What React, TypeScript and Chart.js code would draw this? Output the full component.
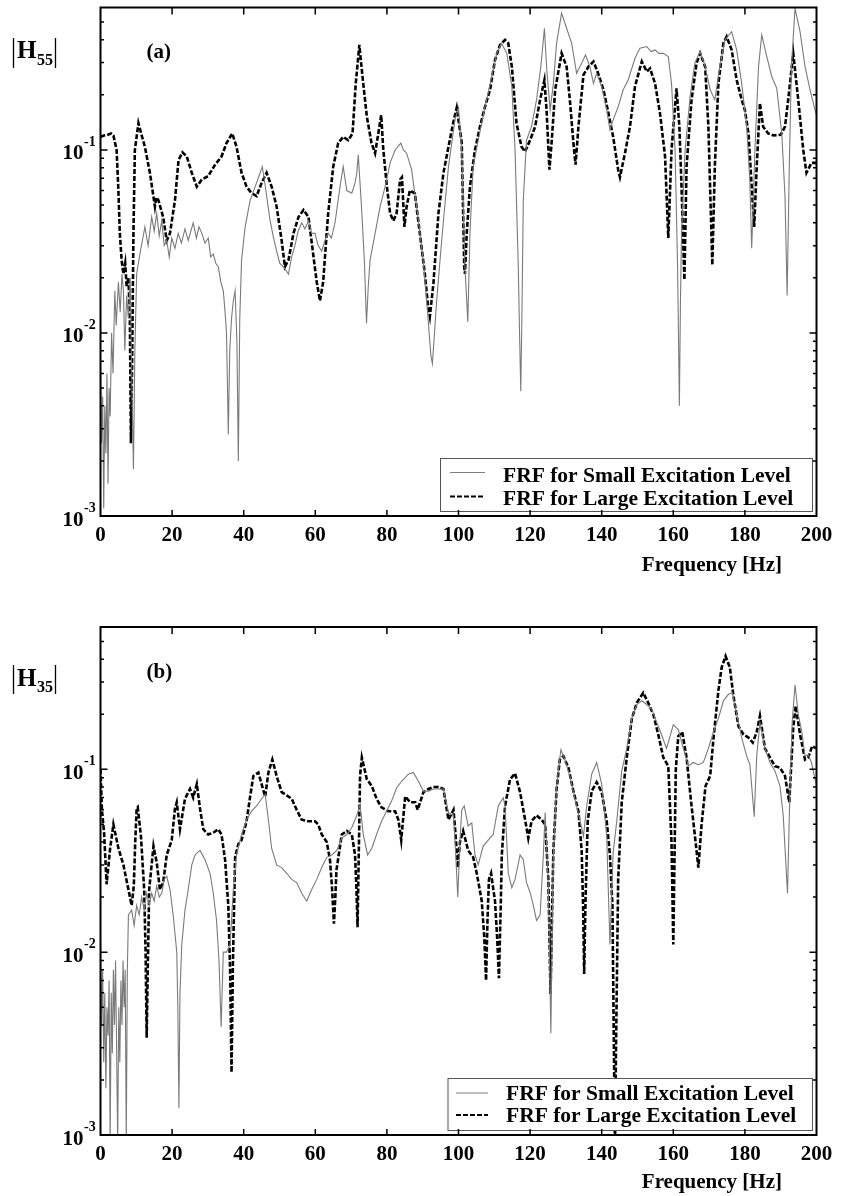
import React, { useEffect, useRef } from 'react';
import { Chart, registerables } from 'chart.js';

Chart.register(...registerables);

const SERIF = '"Liberation Serif", "Times New Roman", serif';

type Pt = [number, number];

const xTickValues = [0, 20, 40, 60, 80, 100, 120, 140, 160, 180, 200];
const yDecades = [0.001, 0.01, 0.1];
const yDecadeExponents = ['-3', '-2', '-1'];
const minorSteps = [2, 3, 4, 5, 6, 7, 8, 9];
const seriesLabels = ['FRF for Small Excitation Level', 'FRF for Large Excitation Level'];
const xAxisTitle = 'Frequency [Hz]';

// Panel (a): |H55|
const h55Small: Pt[] = [
  [0, 0.0065], [0.3, 0.0025], [0.6, 0.0045], [0.9, 0.0011], [1.2, 0.004], [1.5, 0.0022], [1.8, 0.006], [2.1, 0.0015],
  [2.4, 0.005], [2.7, 0.0035], [3.1, 0.01], [3.5, 0.006], [4, 0.017], [4.4, 0.011], [5, 0.019], [5.5, 0.013], [6, 0.021],
  [6.4, 0.017], [6.8, 0.008], [7.3, 0.016], [7.8, 0.012], [8.3, 0.02], [8.8, 0.005], [9.2, 0.0018], [9.6, 0.008],
  [10.1, 0.021], [11, 0.027], [12.4, 0.038], [13.3, 0.03], [14.3, 0.043], [15, 0.036], [15.7, 0.045], [16.4, 0.034],
  [17.1, 0.041], [17.8, 0.03], [18.5, 0.032], [19.2, 0.026], [19.9, 0.033], [20.8, 0.029], [21.7, 0.035], [22.6, 0.031],
  [23.6, 0.037], [24.5, 0.032], [25.9, 0.04], [26.8, 0.033], [27.5, 0.038], [28.3, 0.035], [29.2, 0.031], [30.1, 0.033],
  [30.8, 0.026], [31.5, 0.027], [32.2, 0.024], [32.9, 0.023], [33.6, 0.019], [34.3, 0.017], [34.8, 0.013], [35.2, 0.01],
  [35.7, 0.0028], [36.1, 0.008], [36.6, 0.012], [37.1, 0.015], [37.6, 0.017], [38.1, 0.009], [38.5, 0.002], [38.9, 0.012],
  [39.4, 0.025], [40.4, 0.038], [41.8, 0.053], [43.2, 0.063], [44.6, 0.075], [45.2, 0.081], [45.9, 0.066], [47.3, 0.042],
  [48.2, 0.034], [49.2, 0.028], [50.1, 0.024], [51.1, 0.023], [52.5, 0.021], [53.4, 0.026], [54.3, 0.03], [55.2, 0.036],
  [56.2, 0.04], [57.1, 0.037], [58.1, 0.041], [59, 0.035], [59.9, 0.035], [60.8, 0.03], [61.8, 0.028], [62.7, 0.032],
  [63.6, 0.035], [64.5, 0.033], [65.5, 0.04], [66.2, 0.05], [66.9, 0.063], [67.8, 0.081], [68.8, 0.06], [70.2, 0.058],
  [71.1, 0.066], [71.6, 0.075], [72, 0.094], [72.9, 0.049], [73.7, 0.025], [74.3, 0.0113], [74.8, 0.018], [75.3, 0.025],
  [76.7, 0.035], [78.1, 0.049], [79.5, 0.063], [80.9, 0.085], [82.3, 0.1], [83.9, 0.109], [84.6, 0.1], [85.5, 0.096],
  [86.9, 0.078], [88.3, 0.049], [89.7, 0.0296], [90.4, 0.022], [91.1, 0.015], [91.8, 0.01], [92.3, 0.0075], [92.7, 0.0068],
  [93.3, 0.01], [93.9, 0.015], [95.3, 0.032], [96.2, 0.05], [97.2, 0.081], [99, 0.146], [100, 0.17], [100.9, 0.1],
  [101.8, 0.023], [102.6, 0.0115], [103.2, 0.035], [104.1, 0.081], [105.5, 0.113], [107.4, 0.172], [109.3, 0.252],
  [110.7, 0.337], [112, 0.383], [113.5, 0.337], [114.9, 0.222], [115.8, 0.1], [116.7, 0.023], [117.1, 0.009],
  [117.4, 0.0048], [117.7, 0.012], [118.1, 0.053], [119, 0.113], [120.4, 0.134], [121.8, 0.188], [123, 0.285],
  [124, 0.462], [124.6, 0.285], [125.6, 0.165], [126.5, 0.231], [127.4, 0.383], [128.8, 0.559], [130.2, 0.462],
  [131.6, 0.383], [133, 0.262], [134.4, 0.298], [135.5, 0.33], [136.7, 0.285], [137.7, 0.231], [138.6, 0.262],
  [140, 0.222], [141.4, 0.165], [142.3, 0.129], [143.2, 0.146], [144.6, 0.172], [146, 0.213], [147.4, 0.241],
  [149.3, 0.317], [150.7, 0.36], [152.6, 0.367], [153.8, 0.345], [154.9, 0.352], [156, 0.337], [157.2, 0.337],
  [158.6, 0.324], [159.5, 0.231], [160.5, 0.1], [161.2, 0.023], [161.7, 0.004], [162, 0.015], [162.3, 0.035],
  [163.3, 0.1], [164.7, 0.196], [166, 0.298], [167.5, 0.345], [168.9, 0.285], [170.3, 0.213], [171.6, 0.188],
  [173, 0.285], [174.4, 0.399], [176.3, 0.443], [177.7, 0.352], [179.1, 0.231], [180.5, 0.134], [181.4, 0.066],
  [181.9, 0.029], [182.8, 0.1], [183.8, 0.285], [184.7, 0.425], [186.1, 0.324], [187.5, 0.252], [188.9, 0.217],
  [190.3, 0.123], [191.2, 0.056], [191.8, 0.016], [192.4, 0.081], [193, 0.285], [194, 0.594], [195.4, 0.443],
  [196.8, 0.285], [198.2, 0.213], [199.6, 0.165], [200, 0.155],
];

const h55Large: Pt[] = [
  [0, 0.118], [1, 0.12], [2, 0.121], [3, 0.123], [3.6, 0.12], [4.5, 0.1], [5, 0.06], [5.4, 0.035], [5.9, 0.025],
  [6.4, 0.021], [6.9, 0.024], [7.3, 0.018], [7.8, 0.02], [8.2, 0.012], [8.5, 0.0025], [8.8, 0.006], [9.2, 0.035],
  [9.6, 0.1], [10.6, 0.14], [11.5, 0.12], [12.4, 0.104], [13.8, 0.075], [15.2, 0.049], [15.6, 0.055], [16.2, 0.053],
  [17.5, 0.043], [18.5, 0.032], [19.4, 0.035], [20.8, 0.053], [21.8, 0.088], [22.9, 0.097], [24.1, 0.092], [25.5, 0.075],
  [26.9, 0.063], [28.3, 0.069], [30.1, 0.072], [32, 0.083], [33.8, 0.092], [35.2, 0.109], [36.8, 0.123], [38, 0.104],
  [39.4, 0.075], [40.8, 0.063], [42.2, 0.058], [43.6, 0.056], [45, 0.066], [46.4, 0.075], [47.8, 0.063], [49.2, 0.049],
  [50.6, 0.032], [51.5, 0.023], [52.5, 0.025], [53.9, 0.035], [55.3, 0.043], [56.7, 0.047], [58.1, 0.043], [59.4, 0.027],
  [60.4, 0.019], [61.3, 0.015], [62.2, 0.019], [62.7, 0.026], [63.6, 0.045], [65, 0.081], [66.4, 0.109], [67.8, 0.118],
  [69.2, 0.113], [70.4, 0.123], [71.3, 0.23], [72.3, 0.375], [73.2, 0.25], [74.4, 0.152], [75.7, 0.109], [76.7, 0.096],
  [77.6, 0.123], [78.4, 0.155], [79, 0.1], [80, 0.063], [80.9, 0.045], [81.8, 0.041], [82.7, 0.045], [83.7, 0.069],
  [84.2, 0.071], [84.9, 0.038], [85.5, 0.049], [86.4, 0.06], [87.8, 0.058], [89.2, 0.035], [90.6, 0.021], [91.5, 0.014],
  [92, 0.0123], [93, 0.0187], [94.4, 0.045], [95.8, 0.075], [97.2, 0.104], [98.5, 0.14], [99.5, 0.17], [100.9, 0.11],
  [101.6, 0.023], [101.8, 0.021], [102.3, 0.035], [103.2, 0.063], [104.6, 0.1], [106, 0.134], [107.4, 0.172],
  [108.8, 0.213], [110.2, 0.31], [111.6, 0.375], [113, 0.399], [113.9, 0.383], [114.9, 0.285], [116.2, 0.14],
  [117.6, 0.104], [118.6, 0.098], [120, 0.113], [121.4, 0.134], [122.8, 0.188], [124, 0.241], [124.6, 0.165],
  [125.4, 0.078], [126, 0.109], [127, 0.213], [128.8, 0.337], [130.2, 0.285], [131.1, 0.188], [132.1, 0.109],
  [132.7, 0.083], [133.5, 0.134], [134.9, 0.257], [136.3, 0.285], [137.7, 0.304], [139, 0.262], [140.5, 0.213],
  [141.9, 0.158], [143.2, 0.118], [144.6, 0.078], [145.1, 0.071], [146.5, 0.096], [147.9, 0.134], [149.3, 0.222],
  [151.2, 0.304], [152.6, 0.268], [153.5, 0.279], [154.9, 0.231], [156.3, 0.158], [157.7, 0.092], [158.6, 0.033],
  [159.5, 0.1], [160.9, 0.217], [161.7, 0.134], [162.3, 0.063], [163.1, 0.0195], [163.7, 0.081], [165.1, 0.188],
  [166.5, 0.298], [167.5, 0.337], [168.9, 0.285], [169.8, 0.134], [170.9, 0.0235], [171.6, 0.081], [172.6, 0.231],
  [174, 0.383], [174.9, 0.416], [176.3, 0.352], [177.7, 0.241], [179.1, 0.188], [180, 0.165], [181, 0.123],
  [181.9, 0.063], [182.6, 0.038], [183.3, 0.081], [184.2, 0.18], [185.1, 0.134], [186.5, 0.123], [188, 0.12],
  [190, 0.121], [191.2, 0.134], [192.1, 0.188], [193.5, 0.337], [194.9, 0.188], [196.3, 0.1], [197.2, 0.075],
  [198.6, 0.085], [200, 0.085],
];

// Panel (b): |H35|
const h35Small: Pt[] = [
  [0, 0.012], [0.3, 0.004], [0.6, 0.008], [0.9, 0.0025], [1.2, 0.006], [1.5, 0.0018], [1.8, 0.005], [2.1, 0.0035],
  [2.4, 0.007], [2.7, 0.0009], [3, 0.006], [3.3, 0.0028], [3.6, 0.008], [3.9, 0.004], [4.2, 0.009], [4.5, 0.003],
  [4.8, 0.0009], [5.1, 0.005], [5.4, 0.0025], [5.7, 0.007], [6, 0.004], [6.3, 0.009], [6.6, 0.005], [6.9, 0.008],
  [7.2, 0.0009], [7.5, 0.008], [7.8, 0.016], [8.7, 0.017], [9.4, 0.014], [10.1, 0.018], [10.8, 0.016], [11.5, 0.02],
  [12.2, 0.017], [12.9, 0.021], [13.6, 0.018], [14.3, 0.021], [15, 0.019], [15.7, 0.023], [16.4, 0.02], [17.1, 0.021],
  [17.8, 0.025], [18.5, 0.026], [19.4, 0.022], [20.3, 0.016], [21.3, 0.01], [21.6, 0.005], [21.9, 0.0014], [22.2, 0.006],
  [22.7, 0.011], [23.6, 0.017], [24.5, 0.022], [25.5, 0.03], [26.4, 0.034], [27.8, 0.036], [29.2, 0.032], [30.6, 0.027],
  [31.5, 0.021], [32.4, 0.015], [33.1, 0.009], [33.7, 0.0039], [34.3, 0.01], [35.2, 0.01], [36.2, 0.011], [37.1, 0.022],
  [38, 0.034], [39.4, 0.044], [40.8, 0.053], [42.2, 0.059], [43.6, 0.063], [45, 0.069], [46, 0.073], [46.9, 0.053],
  [47.8, 0.037], [49.2, 0.03], [50.6, 0.029], [52, 0.027], [53.4, 0.025], [54.8, 0.024], [56.2, 0.021], [57.6, 0.019],
  [59, 0.022], [60.4, 0.025], [61.8, 0.029], [63.2, 0.033], [64.6, 0.034], [66, 0.036], [67.4, 0.042], [68.8, 0.044],
  [70.2, 0.048], [71.6, 0.056], [72.5, 0.064], [73.4, 0.044], [74.6, 0.034], [75.8, 0.037], [77.1, 0.044], [78.5, 0.052],
  [79.9, 0.059], [81.3, 0.067], [82.7, 0.079], [84.1, 0.086], [86, 0.094], [87.4, 0.096], [88.8, 0.086], [90.2, 0.076],
  [91.6, 0.076], [93, 0.078], [94.4, 0.078], [95.8, 0.078], [97.2, 0.058], [98.6, 0.056], [99.2, 0.035], [99.8, 0.02],
  [100.4, 0.04], [100.9, 0.06], [101.6, 0.063], [102.7, 0.049], [103.7, 0.051], [104.6, 0.034], [105.5, 0.03],
  [106.9, 0.038], [108.3, 0.041], [109.7, 0.044], [111.1, 0.063], [112.5, 0.07], [113, 0.063], [113.9, 0.027],
  [114.9, 0.0225], [115.8, 0.025], [117.2, 0.034], [118.1, 0.032], [119, 0.024], [120, 0.0212], [120.9, 0.018],
  [121.8, 0.0149], [122.8, 0.016], [123.7, 0.034], [124.2, 0.058], [125.1, 0.023], [125.8, 0.0036], [126.2, 0.015],
  [126.5, 0.034], [127.4, 0.081], [128.6, 0.128], [129.7, 0.113], [131.1, 0.092], [132.5, 0.069], [133.9, 0.053],
  [134.9, 0.043], [135.8, 0.063], [137.2, 0.094], [138.6, 0.109], [140, 0.083], [141.4, 0.043], [142.3, 0.011],
  [143.2, 0.035], [144.2, 0.052], [145.6, 0.098], [147, 0.13], [148.4, 0.19], [149.8, 0.226], [151.2, 0.237],
  [152.6, 0.226], [154, 0.213], [155.4, 0.18], [156.7, 0.155], [158.1, 0.13], [159.1, 0.152], [160, 0.175],
  [161.4, 0.165], [162.8, 0.13], [164.2, 0.104], [165.6, 0.109], [167, 0.106], [168.4, 0.109], [169.8, 0.13],
  [171.2, 0.16], [172.6, 0.19], [174, 0.237], [175.4, 0.257], [176.5, 0.262], [177.7, 0.2], [179.1, 0.149],
  [180.5, 0.118], [181.4, 0.106], [182.6, 0.055], [183.3, 0.118], [184.2, 0.18], [185.6, 0.13], [187, 0.109],
  [188.4, 0.098], [189.8, 0.081], [190.7, 0.056], [191.9, 0.021], [192.6, 0.08], [193.2, 0.18], [194, 0.29],
  [194.9, 0.2], [195.9, 0.16], [196.8, 0.118], [197.7, 0.12], [198.6, 0.109], [200, 0.081],
];

const h35Large: Pt[] = [
  [0, 0.1], [0.4, 0.06], [1, 0.045], [1.7, 0.0235], [2.7, 0.037], [3.6, 0.05], [5, 0.037], [6.4, 0.03], [7.8, 0.022],
  [8.7, 0.018], [9.3, 0.023], [9.7, 0.04], [10.1, 0.061], [10.4, 0.062], [11.3, 0.043], [12.2, 0.022], [12.6, 0.01],
  [12.9, 0.0034], [13.2, 0.008], [13.6, 0.022], [14.8, 0.038], [15.7, 0.031], [16.6, 0.022], [17.5, 0.024], [18.5, 0.034],
  [19.9, 0.041], [20.8, 0.061], [21.3, 0.066], [22.2, 0.047], [23.6, 0.069], [25, 0.078], [25.9, 0.07], [26.9, 0.083],
  [27.8, 0.061], [28.7, 0.047], [30.1, 0.044], [31.5, 0.045], [32.9, 0.047], [33.8, 0.044], [34.8, 0.032], [35.7, 0.018],
  [36.2, 0.008], [36.6, 0.0022], [37, 0.009], [37.6, 0.033], [38.5, 0.039], [39.4, 0.041], [40.8, 0.052], [41.8, 0.071],
  [42.7, 0.092], [44.1, 0.096], [45, 0.083], [46, 0.071], [46.9, 0.096], [48, 0.113], [49.2, 0.092], [50.6, 0.075],
  [52, 0.072], [53.4, 0.069], [54.8, 0.06], [56.2, 0.053], [58.1, 0.052], [59.9, 0.052], [60.8, 0.05], [61.8, 0.044],
  [63.2, 0.04], [64.1, 0.032], [64.7, 0.022], [65.2, 0.0143], [65.6, 0.02], [65.9, 0.028], [67.4, 0.044], [68.8, 0.046],
  [70.2, 0.044], [71.1, 0.034], [71.5, 0.022], [71.8, 0.0137], [72.2, 0.04], [72.5, 0.092], [73, 0.116], [74.4, 0.088],
  [75.8, 0.081], [77.1, 0.069], [78.5, 0.062], [80.4, 0.059], [82.3, 0.059], [83.2, 0.053], [84, 0.041], [85.1, 0.071],
  [86.5, 0.066], [87.9, 0.066], [88.6, 0.06], [90.2, 0.075], [91.6, 0.078], [93, 0.08], [94.4, 0.08], [95.8, 0.078],
  [97.2, 0.053], [98.6, 0.06], [99, 0.049], [99.8, 0.029], [100.4, 0.04], [101.3, 0.046], [102.7, 0.036], [104.1, 0.033],
  [105.1, 0.027], [106.5, 0.019], [107.2, 0.012], [107.7, 0.007], [108.1, 0.015], [108.5, 0.025], [109.1, 0.027],
  [110.2, 0.019], [110.8, 0.012], [111.3, 0.0072], [111.8, 0.018], [112.1, 0.034], [113, 0.063], [114.4, 0.088],
  [115.8, 0.095], [117.2, 0.075], [118.6, 0.053], [119.5, 0.042], [120.4, 0.052], [121.8, 0.056], [123.2, 0.053],
  [124.2, 0.05], [125.1, 0.025], [125.7, 0.0059], [126.1, 0.015], [126.5, 0.036], [127.4, 0.078], [128.3, 0.113],
  [129.3, 0.118], [130.7, 0.102], [132.1, 0.076], [133.5, 0.059], [134.4, 0.036], [134.8, 0.018], [135.1, 0.0076],
  [135.5, 0.02], [136.1, 0.052], [137.2, 0.076], [138.6, 0.085], [140, 0.075], [141.4, 0.052], [142.3, 0.034],
  [143, 0.018], [143.5, 0.002], [143.7, 0.0008], [144, 0.003], [144.6, 0.025], [145.6, 0.066], [147, 0.116],
  [148.4, 0.188], [149.8, 0.231], [151.6, 0.262], [153, 0.231], [154.4, 0.2], [155.8, 0.155], [157.2, 0.116],
  [158.6, 0.104], [159.5, 0.04], [160, 0.011], [160.4, 0.04], [160.7, 0.1], [161.4, 0.152], [162.5, 0.16],
  [163.7, 0.116], [165.1, 0.063], [166, 0.044], [167, 0.029], [167.9, 0.05], [169, 0.081], [170.3, 0.092],
  [171.2, 0.146], [172.6, 0.27], [173.5, 0.36], [174.6, 0.416], [175.8, 0.36], [176.8, 0.252], [178.2, 0.172],
  [179.6, 0.155], [181, 0.149], [182.2, 0.14], [183.3, 0.16], [184.2, 0.196], [185.6, 0.13], [187, 0.116],
  [188.4, 0.104], [189.8, 0.102], [191.2, 0.092], [192.4, 0.066], [193.5, 0.17], [194.2, 0.222], [195.4, 0.155],
  [196.8, 0.113], [197.7, 0.116], [198.8, 0.134], [200, 0.13],
];

interface PanelSpec {
  tag: string;
  sub: string;
  small: Pt[];
  large: Pt[];
  canvasTop: number;
  canvasHeight: number;
  padTop: number;
  xAxisHeight: number;
  legend: { x: number; y: number; w: number; h: number; lineX0: number; lineX1: number; textX: number; row1: number; row2: number; base1: number; base2: number };
  yTitle: { barTop: number; barBottom: number; hBase: number; subBase: number };
  tagBase: number;
  titleBase: number;
}

const panels: PanelSpec[] = [
  {
    tag: '(a)', sub: '55', small: h55Small, large: h55Large,
    canvasTop: 0, canvasHeight: 598, padTop: 7.5, xAxisHeight: 82,
    legend: { x: 440, y: 458, w: 372, h: 53, lineX0: 450, lineX1: 485, textX: 503, row1: 472.5, row2: 496.5, base1: 481.5, base2: 505 },
    yTitle: { barTop: 38, barBottom: 68, hBase: 58, subBase: 65 },
    tagBase: 58, titleBase: 571,
  },
  {
    tag: '(b)', sub: '35', small: h35Small, large: h35Large,
    canvasTop: 598, canvasHeight: 598, padTop: 29, xAxisHeight: 61,
    legend: { x: 447.5, y: 480, w: 364.5, h: 52, lineX0: 456, lineX1: 488, textX: 506, row1: 495, row2: 517, base1: 502, base2: 524 },
    yTitle: { barTop: 67, barBottom: 96, hBase: 88, subBase: 94 },
    tagBase: 80, titleBase: 590,
  },
];

function decorPlugin(spec: PanelSpec) {
  return {
    id: 'decor',
    afterDraw(chart: any) {
      const ctx: CanvasRenderingContext2D = chart.ctx;
      const { left, right, top, bottom } = chart.chartArea;
      const xs = chart.scales.x;
      const ys = chart.scales.y;
      ctx.save();

      // legend box (white, covers curves)
      const L = spec.legend;
      ctx.fillStyle = '#fff';
      ctx.fillRect(L.x, L.y, L.w, L.h);
      ctx.strokeStyle = '#555';
      ctx.lineWidth = 1;
      ctx.strokeRect(L.x + 0.5, L.y + 0.5, L.w, L.h);
      ctx.beginPath();
      ctx.strokeStyle = '#7c7c7c';
      ctx.lineWidth = 1;
      ctx.moveTo(L.lineX0, L.row1);
      ctx.lineTo(L.lineX1, L.row1);
      ctx.stroke();
      ctx.beginPath();
      ctx.strokeStyle = '#000';
      ctx.lineWidth = 2;
      ctx.setLineDash([5, 2]);
      ctx.moveTo(L.lineX0, L.row2);
      ctx.lineTo(L.lineX1, L.row2);
      ctx.stroke();
      ctx.setLineDash([]);
      ctx.fillStyle = '#000';
      ctx.font = `bold 21.5px ${SERIF}`;
      ctx.textAlign = 'left';
      ctx.textBaseline = 'alphabetic';
      ctx.fillText(seriesLabels[0], L.textX, L.base1);
      ctx.fillText(seriesLabels[1], L.textX, L.base2);

      // frame
      ctx.strokeStyle = '#000';
      ctx.lineWidth = 2;
      ctx.strokeRect(left, top, right - left, bottom - top);

      // x tick marks (inward, top and bottom)
      ctx.lineWidth = 1.5;
      ctx.beginPath();
      for (const t of xTickValues) {
        if (t === xs.min || t === xs.max) continue;
        const px = xs.getPixelForValue(t);
        ctx.moveTo(px, bottom);
        ctx.lineTo(px, bottom - 6);
        ctx.moveTo(px, top);
        ctx.lineTo(px, top + 7);
      }
      ctx.stroke();

      // y tick marks (inward, left and right)
      ctx.beginPath();
      for (const d of yDecades) {
        const py = ys.getPixelForValue(d);
        ctx.moveTo(left, py);
        ctx.lineTo(left + 7, py);
        ctx.moveTo(right, py);
        ctx.lineTo(right - 7, py);
        for (const m of minorSteps) {
          const v = d * m;
          if (v > ys.max) continue;
          const pm = ys.getPixelForValue(v);
          ctx.moveTo(left, pm);
          ctx.lineTo(left + 3.5, pm);
          ctx.moveTo(right, pm);
          ctx.lineTo(right - 3.5, pm);
        }
      }
      ctx.stroke();

      // y tick labels 10^n
      ctx.fillStyle = '#000';
      yDecades.forEach((d, i) => {
        const py = ys.getPixelForValue(d);
        ctx.font = `bold 21px ${SERIF}`;
        ctx.textAlign = 'right';
        ctx.textBaseline = 'alphabetic';
        ctx.fillText('10', 83.5, py + 9.5);
        ctx.font = `bold 14px ${SERIF}`;
        ctx.textAlign = 'left';
        ctx.fillText(yDecadeExponents[i], 84, py - 4.3);
      });

      // y axis title |H_xx|
      const T = spec.yTitle;
      ctx.lineWidth = 1.3;
      ctx.beginPath();
      ctx.moveTo(13.5, T.barTop);
      ctx.lineTo(13.5, T.barBottom);
      ctx.moveTo(55.5, T.barTop);
      ctx.lineTo(55.5, T.barBottom);
      ctx.stroke();
      ctx.textAlign = 'left';
      ctx.font = `bold 25px ${SERIF}`;
      ctx.fillText('H', 17, T.hBase);
      ctx.font = `bold 16px ${SERIF}`;
      ctx.fillText(spec.sub, 37, T.subBase);

      // panel tag
      ctx.font = `bold 21px ${SERIF}`;
      ctx.fillText(spec.tag, 146.5, spec.tagBase);

      // x axis title
      ctx.textAlign = 'right';
      ctx.fillText(xAxisTitle, 782, spec.titleBase);

      ctx.restore();
    },
  };
}

function Panel({ spec }: { spec: PanelSpec }) {
  const ref = useRef<HTMLCanvasElement | null>(null);
  useEffect(() => {
    if (!ref.current) return;
    const chart = new Chart(ref.current, {
      type: 'line',
      data: {
        datasets: [
          {
            label: seriesLabels[0],
            data: spec.small.map(([x, y]) => ({ x, y })),
            borderColor: '#7a7a7a',
            borderWidth: 1.1,
            pointRadius: 0,
            fill: false,
            tension: 0,
          },
          {
            label: seriesLabels[1],
            data: spec.large.map(([x, y]) => ({ x, y })),
            borderColor: '#000',
            borderWidth: 2.6,
            borderDash: [5, 2],
            pointRadius: 0,
            fill: false,
            tension: 0,
          },
        ],
      },
      options: {
        responsive: false,
        animation: false,
        devicePixelRatio: 1,
        layout: { padding: { left: 0, right: 27.5, top: spec.padTop, bottom: 0 } },
        plugins: { legend: { display: false }, tooltip: { enabled: false } },
        scales: {
          x: {
            type: 'linear',
            min: 0,
            max: 200,
            position: 'bottom',
            grid: { display: false, drawTicks: false },
            border: { display: false },
            ticks: {
              stepSize: 20,
              autoSkip: false,
              maxRotation: 0,
              color: '#000',
              padding: 7,
              font: { family: SERIF, size: 21, weight: 'bold' },
            },
            afterFit: (s: any) => {
              s.height = spec.xAxisHeight;
            },
          },
          y: {
            type: 'logarithmic',
            min: 0.001,
            max: 0.6,
            position: 'left',
            grid: { display: false, drawTicks: false },
            border: { display: false },
            ticks: { display: false },
            afterFit: (s: any) => {
              s.width = 100.5;
            },
          },
        },
      } as any,
      plugins: [decorPlugin(spec)],
    });
    return () => chart.destroy();
  }, [spec]);
  return (
    <canvas
      ref={ref}
      width={844}
      height={spec.canvasHeight}
      style={{ position: 'absolute', left: 0, top: spec.canvasTop, width: 844, height: spec.canvasHeight }}
    />
  );
}

export default function App() {
  return (
    <div style={{ position: 'absolute', left: 0, top: 0, width: 844, height: 1196, background: '#fff' }}>
      {panels.map((p) => (
        <Panel key={p.tag} spec={p} />
      ))}
    </div>
  );
}
